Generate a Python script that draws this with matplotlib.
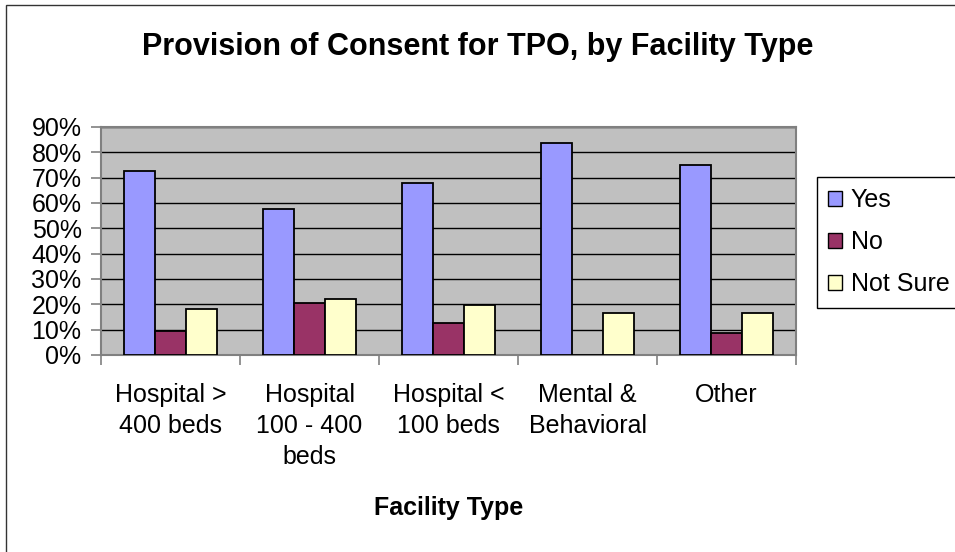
import numpy as np
import matplotlib
matplotlib.use("Agg")
import matplotlib.pyplot as plt
from matplotlib.patches import Rectangle, Patch
from matplotlib.ticker import PercentFormatter

plt.rcParams['font.family'] = ['Liberation Sans', 'DejaVu Sans']

categories = ["Hospital >\n400 beds", "Hospital\n100 - 400\nbeds", "Hospital <\n100 beds",
              "Mental &\nBehavioral", "Other"]
series = ["Yes", "No", "Not Sure"]
yes = [0.726, 0.576, 0.680, 0.837, 0.751]
no = [0.096, 0.205, 0.127, 0.0, 0.087]
not_sure = [0.182, 0.221, 0.199, 0.167, 0.167]
colors = ["#9999FF", "#993366", "#FFFFCC"]

W, H = 955, 552
fig = plt.figure(figsize=(W / 100, H / 100), dpi=100)
fig.patch.set_facecolor("white")
# outer chart border (only left/top visible in the picture)
fig.patches.append(Rectangle((6 / W, -0.05), 1.2, 1 - 5 / H + 0.05, transform=fig.transFigure,
                             fill=False, edgecolor="#333333", linewidth=1.0))

ax = fig.add_axes([101 / W, 1 - 355 / H, (796 - 101) / W, (355 - 127) / H])
ax.set_facecolor("#C0C0C0")

x = np.arange(len(categories))
bw = 0.223
vals = [yes, no, not_sure]
for i, (name, v) in enumerate(zip(series, vals)):
    ax.bar(x + (i - 1) * bw, v, width=bw, color=colors[i], edgecolor="black",
           linewidth=1.3, label=name, zorder=3)

ax.set_xlim(-0.5, len(categories) - 0.5)
ax.set_ylim(0, 0.9)
ax.set_yticks(np.arange(0, 0.91, 0.1))
ax.yaxis.set_major_formatter(PercentFormatter(1.0, decimals=0))
ax.yaxis.grid(True, color="black", linewidth=1.0, zorder=1)
ax.set_axisbelow(True)

ax.set_xticks(np.arange(-0.5, len(categories), 1.0), minor=False)
ax.set_xticklabels([])
ax.set_xticks(x, minor=True)
ax.set_xticklabels(categories, minor=True, fontsize=18, linespacing=1.38, va="top")
ax.tick_params(axis="x", which="minor", length=0, pad=20)
ax.tick_params(axis="x", which="major", length=7, color="#808080", width=1.2, direction="out")
ax.tick_params(axis="y", length=7, color="#808080", width=1.2, labelsize=18, pad=7)

for s in ax.spines.values():
    s.set_color("#808080")
    s.set_linewidth(1.5)

fig.text(0.5, 1 - 55 / H, "Provision of Consent for TPO, by Facility Type",
         ha="center", va="baseline", fontsize=22, fontweight="bold")
fig.text((101 + 796) / 2 / W, 1 - 515 / H, "Facility Type", ha="center", va="baseline",
         fontsize=18, fontweight="bold")

handles = [Patch(facecolor=c, edgecolor="black", linewidth=1.0) for c in colors]
leg = fig.legend(handles, series, loc="upper left", bbox_to_anchor=(817 / W, 1 - 177 / H),
                 borderaxespad=0, fontsize=18, handlelength=0.55, handleheight=0.55,
                 handletextpad=0.35, labelspacing=0.72, borderpad=0.45, fancybox=False,
                 framealpha=1, edgecolor="black")
leg.get_frame().set_linewidth(1.0)

fig.savefig("out.png", dpi=100)
